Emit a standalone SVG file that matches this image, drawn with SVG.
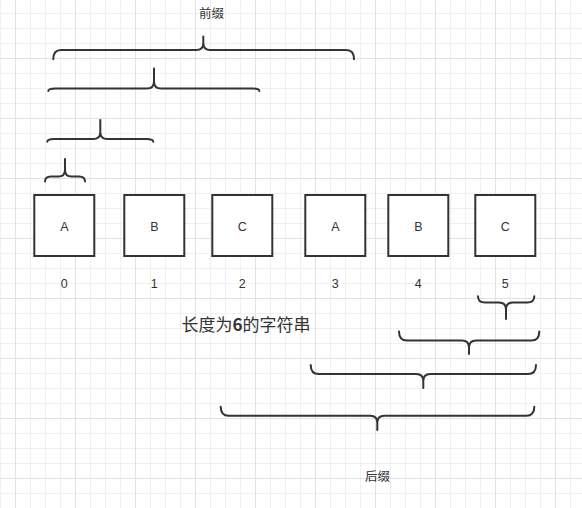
<svg xmlns="http://www.w3.org/2000/svg" width="582" height="508" viewBox="0 0 582 508">
<defs>
<pattern id="grid" x="15" y="58" width="60" height="60" patternUnits="userSpaceOnUse">
<path d="M15.5 0V60M30.5 0V60M45.5 0V60M0 15.5H60M0 30.5H60M0 45.5H60" stroke="#f0f0f0" stroke-width="1" fill="none"/>
<path d="M0.5 0V60M0 0.5H60" stroke="#e2e2e2" stroke-width="1" fill="none"/>
</pattern>
</defs>
<style>
.box{fill:#fff;stroke:#333;stroke-width:2}
.brace{fill:none;stroke:#333;stroke-width:2;stroke-linejoin:round;stroke-linecap:round}
.lbl{font-family:"Liberation Sans",Arial,sans-serif;font-size:12.5px;fill:#333;text-anchor:middle}
.cjk{font-family:"Noto Sans CJK SC",sans-serif;fill:#333}
</style>
<rect width="582" height="508" fill="#fff"/>
<rect width="582" height="508" fill="url(#grid)"/>

<g id="connectors">
<path class="brace" d="M53.3 59.3Q53.3 50 61 50L196.3 50Q203.3 50 203.3 43L203.3 36.5M203.3 43Q203.3 50 210.3 50L346.3 50Q354 50 354 59.3"/>
<path class="brace" d="M48.3 91Q48.3 88.5 55 88.5L147 88.5Q154 88.5 154 81.5L154 68.5M154 81.5Q154 88.5 161 88.5L252.5 88.5Q259.3 88.5 259.3 91"/>
<path class="brace" d="M47.3 141.7Q47.3 139 54 139L93.3 139Q100.3 139 100.3 132L100.3 120M100.3 132Q100.3 139 107.3 139L146.5 139Q153.3 139 153.3 141.7"/>
<path class="brace" d="M45 181.5Q45 176.5 51 176.5L58.5 176.5Q65 176.5 65 170L65 159M65 170Q65 176.5 71.5 176.5L79 176.5Q85 176.5 85 181.5"/>
<path class="brace" d="M478 296.3Q478 302.5 485 302.5L499 302.5Q506 302.5 506 309.5L506 319M506 309.5Q506 302.5 513 302.5L527.3 302.5Q534.3 302.5 534.3 296.3"/>
<path class="brace" d="M399 331.5Q399 340.5 407 340.5L462 340.5Q469 340.5 469 347.5L469 354M469 347.5Q469 340.5 476 340.5L531.3 340.5Q539.3 340.5 539.3 331.5"/>
<path class="brace" d="M310.7 365Q310.7 374 318.7 374L416.3 374Q423.3 374 423.3 381L423.3 388M423.3 381Q423.3 374 430.3 374L528 374Q536 374 536 365"/>
<path class="brace" d="M220.7 406.7Q220.7 415.7 228.7 415.7L370.3 415.7Q377.3 415.7 377.3 422.7L377.3 430M377.3 422.7Q377.3 415.7 384.3 415.7L526.3 415.7Q534.3 415.7 534.3 406.7"/>
</g>

<g id="node-0"><rect class="box" x="34.3" y="195" width="60" height="61"/><text class="lbl" x="64.3" y="231">A</text><text class="lbl" x="64.3" y="288">0</text></g>
<g id="node-1"><rect class="box" x="124.3" y="195" width="60" height="61"/><text class="lbl" x="154.3" y="231">B</text><text class="lbl" x="154.3" y="288">1</text></g>
<g id="node-2"><rect class="box" x="212.3" y="195" width="60" height="61"/><text class="lbl" x="242.3" y="231">C</text><text class="lbl" x="242.3" y="288">2</text></g>
<g id="node-3"><rect class="box" x="305.3" y="195" width="60" height="61"/><text class="lbl" x="335.3" y="231">A</text><text class="lbl" x="335.3" y="288">3</text></g>
<g id="node-4"><rect class="box" x="388.3" y="195" width="60" height="61"/><text class="lbl" x="418.3" y="231">B</text><text class="lbl" x="418.3" y="288">4</text></g>
<g id="node-5"><rect class="box" x="475.3" y="195" width="60" height="61"/><text class="lbl" x="505.3" y="231">C</text><text class="lbl" x="505.3" y="288">5</text></g>

<g id="title-prefix"><text class="cjk" x="211.5" y="18" font-size="12.5" text-anchor="middle">前缀</text></g>
<g id="title-suffix"><text class="cjk" x="377.5" y="481" font-size="12.5" text-anchor="middle">后缀</text></g>
<g id="caption"><text class="cjk" x="181.5" y="331" font-size="17">长度为<tspan font-weight="bold">6</tspan>的字符串</text></g>
</svg>
